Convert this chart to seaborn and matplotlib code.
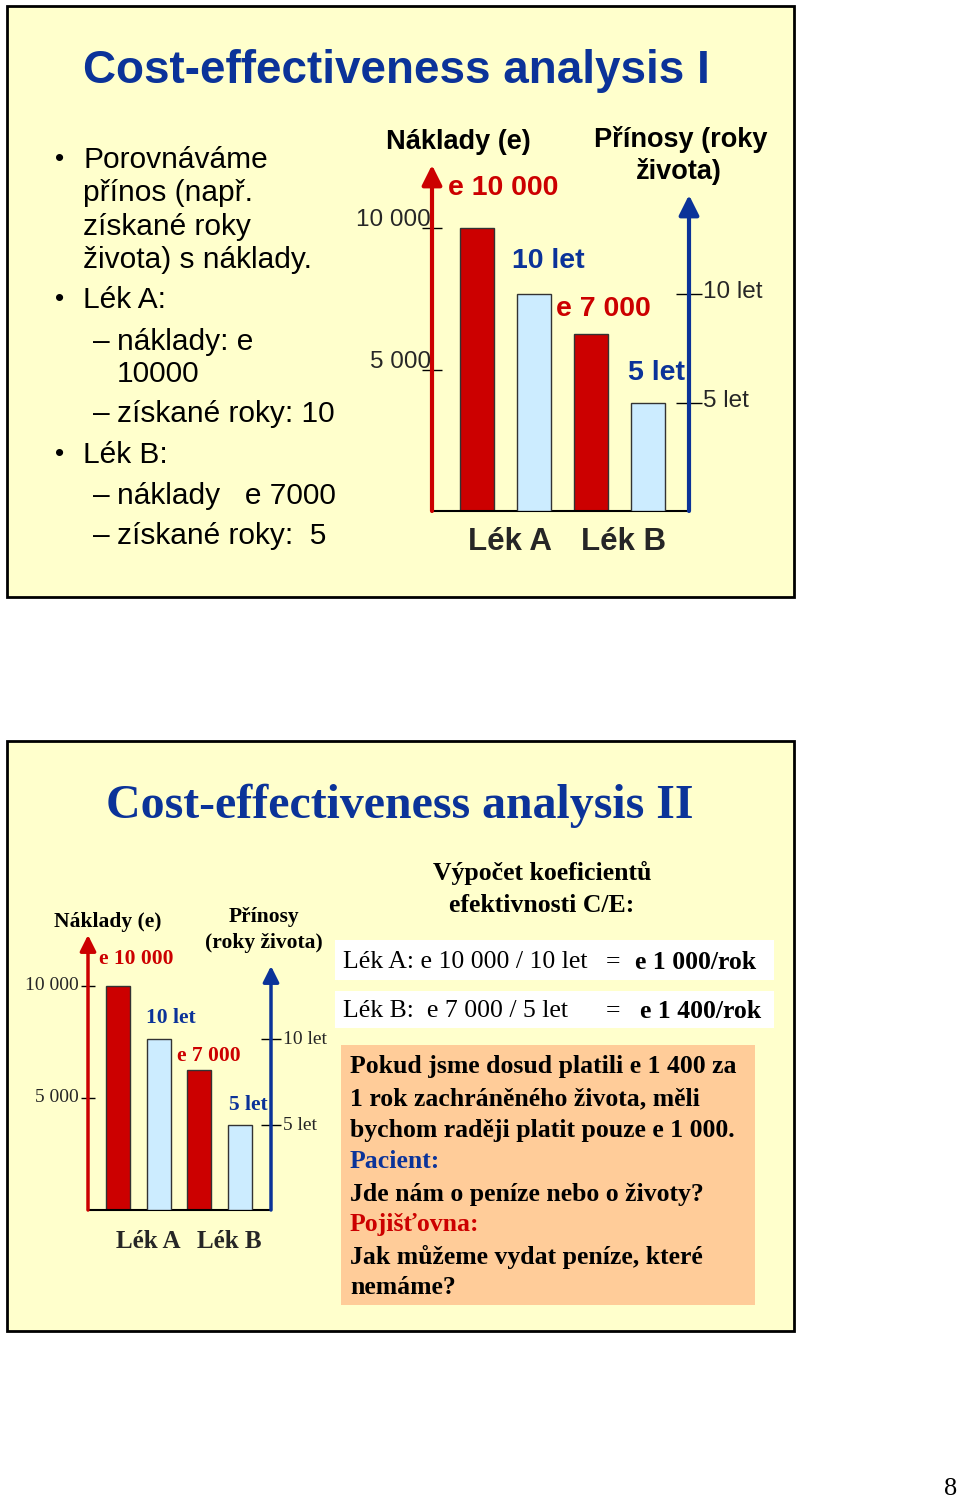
import matplotlib
matplotlib.use("Agg")
import matplotlib.pyplot as plt
import seaborn as sns
import pandas as pd
from matplotlib.patches import Rectangle

# data
drugs = ["Lék A", "Lék B"]
costs = [10000, 7000]            # e, as labelled on the slide
cost_drawn = [10000, 6250]       # bar heights as drawn (slide is not to scale)
years = [10, 5]                  # years of life gained
cost_ticks = [5000, 10000]
year_ticks = [5, 10]

RED = "#CC0000"
LIGHT = "#CCECFF"
BLUE = "#0B3399"
YELLOW = "#FFFFCC"
PEACH = "#FFCC99"
SANS = "Liberation Sans"
SERIF = "Liberation Serif"

W, H = 960, 1499

sns.set_theme(style="white")
plt.rcParams["font.family"] = [SANS, "DejaVu Sans"]


def num(v):
    return f"{v:,}".replace(",", " ")


fig = plt.figure(figsize=(W / 100, H / 100), dpi=100)
bg = fig.add_axes([0, 0, 1, 1])
bg.set_xlim(0, W)
bg.set_ylim(H, 0)
bg.axis("off")


def txt(x, y, s, size, family=SANS, weight="normal", color="black", ha="left"):
    bg.text(x, y, s, fontsize=size, family=family, weight=weight, color=color,
            ha=ha, va="center")


def draw_chart(cfg):
    left, right, base, top = cfg["left"], cfg["right"], cfg["base"], cfg["top"]
    fam = cfg["family"]
    ax = fig.add_axes([left / W, 1 - base / H, (right - left) / W, (base - top) / H])
    ax.patch.set_alpha(0)
    ax2 = ax.twinx()
    ax2.patch.set_alpha(0)

    order = [f"{d} {k}" for d in drugs for k in ("cost", "years")]
    df_cost = pd.DataFrame({"slot": [f"{d} cost" for d in drugs], "value": cost_drawn})
    df_years = pd.DataFrame({"slot": [f"{d} years" for d in drugs], "value": years})
    sns.barplot(data=df_cost, x="slot", y="value", order=order, color=RED,
                saturation=1, width=cfg["bw"], edgecolor="#333333", linewidth=1, ax=ax)
    sns.barplot(data=df_years, x="slot", y="value", order=order, color=LIGHT,
                saturation=1, width=cfg["bw"], edgecolor="#333333", linewidth=1, ax=ax2)

    x0, x1 = cfg["xlim"]
    for a in (ax, ax2):
        a.set_xlim(x0, x1)
        a.set_xlabel("")
        a.set_ylabel("")
        a.tick_params(axis="x", bottom=False, labelbottom=False)
        for sp in ("left", "right", "top"):
            a.spines[sp].set_visible(False)
    ax.spines["bottom"].set_color("black")
    ax.spines["bottom"].set_linewidth(1.5)
    ax2.spines["bottom"].set_visible(False)
    ax.set_ylim(0, cfg["cost_top"])
    ax2.set_ylim(0, cfg["year_top"])

    ax.set_yticks(cost_ticks)
    ax.tick_params(axis="y", left=True, direction="inout", length=cfg["tl"] / 1.389,
                   width=1, color="black", labelleft=False)
    ax2.set_yticks(year_ticks)
    ax2.tick_params(axis="y", right=True, direction="inout", length=cfg["tr"] / 1.389,
                    width=1, color="black", labelright=False)

    # axis arrows
    ax.annotate("", xy=(x0, cfg["cost_top"]), xytext=(x0, 0),
                arrowprops=dict(arrowstyle="-|>,head_length=0.6,head_width=0.3",
                                color=RED, lw=cfg["alw"], shrinkA=0, shrinkB=0,
                                mutation_scale=cfg["ams"]), annotation_clip=False)
    ax2.annotate("", xy=(x1, cfg["year_arrow"]), xytext=(x1, 0),
                 arrowprops=dict(arrowstyle="-|>,head_length=0.6,head_width=0.3",
                                 color=BLUE, lw=cfg["alw"], shrinkA=0, shrinkB=0,
                                 mutation_scale=cfg["ams"]), annotation_clip=False)

    # tick labels
    ldx, ldy = cfg["lab_left"]
    for v in cost_ticks:
        ax.annotate(num(v), xy=(0, v), xycoords=("axes fraction", "data"),
                    xytext=(ldx, ldy), textcoords="offset pixels", ha="right",
                    va="center", fontsize=cfg["tick_fs"], family=fam)
    rdx, rdy = cfg["lab_right"]
    for v in year_ticks:
        ax2.annotate(f"{v} let", xy=(1, v), xycoords=("axes fraction", "data"),
                     xytext=(rdx, rdy), textcoords="offset pixels", ha="left",
                     va="center", fontsize=cfg["tick_fs"], family=fam)

    # value labels above bars
    offs = cfg["val_offs"]
    for i in range(len(drugs)):
        dx, dy = offs[2 * i]
        ax.annotate(f"e {num(costs[i])}", xy=(2 * i, cost_drawn[i]), xytext=(dx, dy),
                    textcoords="offset pixels", ha="center", va="center", color=RED,
                    fontsize=cfg["val_fs"], weight="bold", family=fam,
                    annotation_clip=False)
        dx, dy = offs[2 * i + 1]
        ax2.annotate(f"{years[i]} let", xy=(2 * i + 1, years[i]), xytext=(dx, dy),
                     textcoords="offset pixels", ha="center", va="center", color=BLUE,
                     fontsize=cfg["val_fs"], weight="bold", family=fam,
                     annotation_clip=False)

    # drug names under the pairs
    cdx, cdy = cfg["cat_off"]
    for i, d in enumerate(drugs):
        ax.annotate(d, xy=(2 * i + 0.5, 0), xytext=(cdx, cdy), textcoords="offset pixels",
                    ha="center", va="center", fontsize=cfg["cat_fs"], weight="bold",
                    family=fam, annotation_clip=False)


# ---------------- slide 1 ----------------
bg.add_patch(Rectangle((7, 6), 787, 591, facecolor=YELLOW, edgecolor="black", lw=2))
txt(396, 71, "Cost-effectiveness analysis I", 33, weight="bold", color=BLUE, ha="center")

for y in (159, 299, 454):
    txt(60, y, "•", 19, ha="center")
for y, s in [(158, "Porovnáváme"), (191, "přínos (např."), (225, "získané roky"),
             (258, "života) s náklady."), (298, f"{drugs[0]}:"), (453, f"{drugs[1]}:")]:
    txt(83, y + 2, s, 21.5)
for y, s in [(340, "náklady: e"), (372, f"{costs[0]}"), (412, f"získané roky: {years[0]}"),
             (494, f"náklady   e {costs[1]}"), (534, f"získané roky:  {years[1]}")]:
    if s != f"{costs[0]}":
        txt(93, y + 2, "–", 21.5)
    txt(117, y + 2, s, 21.5)

txt(458, 142, "Náklady (e)", 19.5, weight="bold", ha="center")
txt(681, 139, "Přínosy (roky", 19.5, weight="bold", ha="center")
txt(679, 171, "života)", 19.5, weight="bold", ha="center")

draw_chart(dict(left=432, right=689, base=511, top=165, family=SANS,
                xlim=((432 - 477) / 57, (689 - 477) / 57), bw=0.58,
                cost_top=10000 * (511 - 165) / (511 - 228),
                year_top=10 * (511 - 165) / (511 - 294),
                year_arrow=10 * (511 - 195) / (511 - 294),
                tl=20, tr=26, alw=3, ams=20,
                lab_left=(-1, 8), lab_right=(14, 2), tick_fs=17.5,
                val_offs=[(26, 40), (14, 33), (12, 25), (9, 30)], val_fs=20.5,
                cat_off=(4, -31), cat_fs=22.5))

# ---------------- slide 2 ----------------
bg.add_patch(Rectangle((7, 741), 787, 590, facecolor=YELLOW, edgecolor="black", lw=2))
txt(400, 806, "Cost-effectiveness analysis II", 34.5, family=SERIF, weight="bold",
    color=BLUE, ha="center")

txt(108, 922, "Náklady (e)", 15.5, family=SERIF, weight="bold", ha="center")
txt(264, 917, "Přínosy", 15.5, family=SERIF, weight="bold", ha="center")
txt(264, 943, "(roky života)", 15.5, family=SERIF, weight="bold", ha="center")

draw_chart(dict(left=88, right=271, base=1210, top=935, family=SERIF,
                xlim=((88 - 118) / 40.7, (271 - 118) / 40.7), bw=0.59,
                cost_top=10000 * (1210 - 935) / (1210 - 986),
                year_top=10 * (1210 - 935) / (1210 - 1039),
                year_arrow=10 * (1210 - 966) / (1210 - 1039),
                tl=14, tr=20, alw=2.5, ams=16,
                lab_left=(-9, 1), lab_right=(12, -1), tick_fs=14,
                val_offs=[(18, 27), (12, 21), (9, 14), (8, 19)], val_fs=15.5,
                cat_off=(10, -31), cat_fs=18))

txt(542, 873, "Výpočet koeficientů", 18.5, family=SERIF, weight="bold", ha="center")
txt(542, 905, "efektivnosti C/E:", 18.5, family=SERIF, weight="bold", ha="center")

ratios = [c / y for c, y in zip(costs, years)]
bg.add_patch(Rectangle((335, 940), 439, 40, facecolor="white", edgecolor="none"))
bg.add_patch(Rectangle((335, 991), 439, 37, facecolor="white", edgecolor="none"))
txt(343, 962, f"{drugs[0]}: e {num(costs[0])} / {years[0]} let", 18.5, family=SERIF)
txt(613, 962, "=", 18.5, family=SERIF, ha="center")
txt(635, 962, f"e {num(int(ratios[0]))}/rok", 18.5, family=SERIF, weight="bold")
txt(343, 1011, f"{drugs[1]}:  e {num(costs[1])} / {years[1]} let", 18.5, family=SERIF)
txt(613, 1011, "=", 18.5, family=SERIF, ha="center")
txt(640, 1011, f"e {num(int(ratios[1]))}/rok", 18.5, family=SERIF, weight="bold")

bg.add_patch(Rectangle((341, 1045), 414, 260, facecolor=PEACH, edgecolor="none"))
lines = [
    (f"Pokud jsme dosud platili e {num(int(ratios[1]))} za", "black"),
    ("1 rok zachráněného života, měli", "black"),
    (f"bychom raději platit pouze e {num(int(ratios[0]))}.", "black"),
    ("Pacient:", BLUE),
    ("Jde nám o peníze nebo o životy?", "black"),
    ("Pojišťovna:", RED),
    ("Jak můžeme vydat peníze, které", "black"),
    ("nemáme?", "black"),
]
for y, (s, c) in zip([1066, 1098, 1130, 1161, 1193, 1224, 1256, 1287], lines):
    txt(350, y + 1, s, 18.5, family=SERIF, weight="bold", color=c)

txt(951, 1489, "8", 19, family=SERIF, ha="center")

fig.savefig("out.png", dpi=100)
